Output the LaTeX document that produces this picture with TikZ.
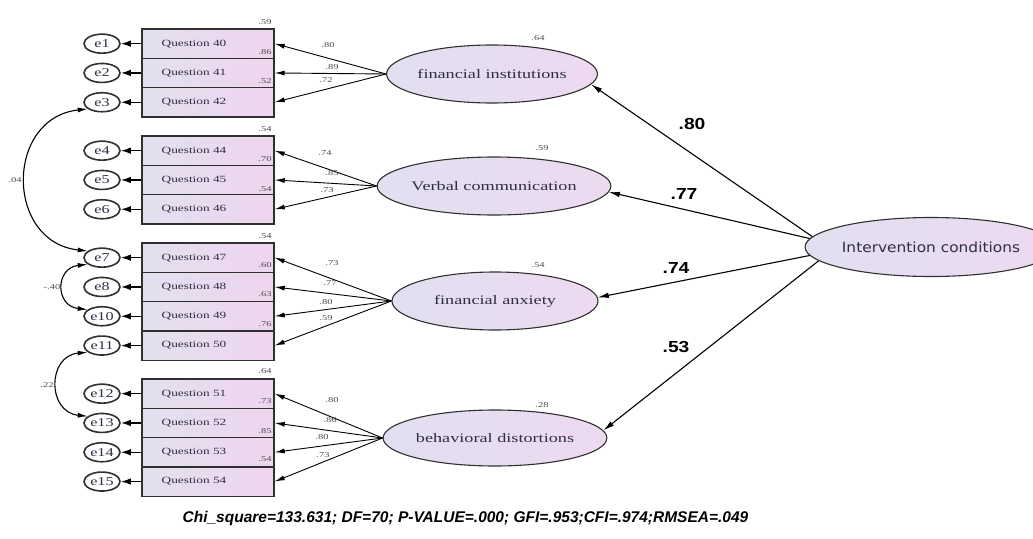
\documentclass[tikz,border=0pt]{standalone}
\usepackage{graphicx}
\usepackage{fontspec}
\setmainfont{Liberation Serif}
\newfontfamily\icfont{DejaVu Sans}
\newfontfamily\labsans{Liberation Sans}
\usetikzlibrary{shapes.geometric,arrows.meta}

\definecolor{boxL}{HTML}{E3E0EE}
\definecolor{boxR}{HTML}{EFD5EF}
\definecolor{ellL}{HTML}{E1DFF0}
\definecolor{ellR}{HTML}{EEDAF0}
\definecolor{ink}{HTML}{2E2E44}
\definecolor{edgecol}{HTML}{303030}
\definecolor{num}{HTML}{4A4A4A}

% horizontally widened text
\newcommand\widetxt[2][1.4]{\scalebox{#1}[1]{#2}}
% indicator caption, set a little left of the box centre
\newcommand\qtxt[1]{\widetxt{Question #1}\kern28pt}

\begin{document}
\begin{tikzpicture}[x=1pt,y=-1pt,
  item/.style={draw=edgecol, line width=1.4pt, rectangle,
    minimum width=132pt, minimum height=29.3pt, inner sep=0pt,
    left color=boxL, right color=boxR, text=ink,
    font=\fontsize{9.5}{10}\selectfont},
  err/.style={ellipse, draw=edgecol, line width=1.6pt, fill=white,
    minimum width=36pt, minimum height=19pt, inner sep=0pt, text=ink,
    font=\fontsize{12}{12}\selectfont},
  latent/.style={ellipse, draw=edgecol, line width=1.1pt, inner sep=0pt,
    left color=ellL, right color=ellR, text=ink,
    font=\fontsize{13}{14}\selectfont},
  ea/.style={-{Latex[length=10pt,width=6.5pt]}, line width=1.4pt, draw=black},
  ld/.style={-{Latex[length=10pt,width=5pt]}, line width=0.9pt, draw=black},
  st/.style={-{Latex[length=11pt,width=5.5pt]}, line width=1.1pt, draw=black},
  cov/.style={{Latex[length=10pt,width=5pt]}-{Latex[length=10pt,width=5pt]},
    line width=1.1pt, draw=black},
  sm/.style={font=\fontsize{7.5}{8}\selectfont, text=num, inner sep=0pt},
  big/.style={font=\labsans\bfseries\fontsize{16}{17}\selectfont, inner sep=0pt}]

\fill[white] (0,0) rectangle (1033,538);
\useasboundingbox (0,0) rectangle (1033,538);

% observed indicators and their error terms
\foreach \e/\n/\y in {1/40/43.65, 2/41/72.95, 3/42/102.25,
                      4/44/150.65, 5/45/179.95, 6/46/209.25,
                      7/47/257.65, 8/48/286.95, 10/49/316.25, 11/50/345.55,
                      12/51/393.65, 13/52/422.95, 14/53/452.25, 15/54/481.55}{
  \node[item] (q\n) at (208,\y) {\qtxt{\n}};
  \node[err] (e\e) at (102,\y) {\widetxt[1.35]{e\e}};
  \draw[ea] (q\n.west) -- (e\e.east);
}

% first-order factors
\node[latent, minimum width=208pt, minimum height=58pt] (FI) at (492,74) {\widetxt{financial institutions}};
\node[latent, minimum width=210pt, minimum height=58pt] (VC) at (494,186) {\widetxt{Verbal communication}};
\node[latent, minimum width=206pt, minimum height=58pt] (FA) at (495,301) {\widetxt{financial anxiety}};
\node[latent, minimum width=204pt, minimum height=56pt] (BD) at (495,438) {\widetxt{behavioral distortions}};

% second-order factor
\node[latent, minimum width=202pt, minimum height=59pt,
  font=\icfont\fontsize{14}{15}\selectfont] (IC) at (931,247) {\widetxt[1.1]{Intervention conditions}};

% factor loadings
\draw[ld] (FI.west) -- (q40.east);
\draw[ld] (FI.west) -- (q41.east);
\draw[ld] (FI.west) -- (q42.east);
\draw[ld] (VC.west) -- (q44.east);
\draw[ld] (VC.west) -- (q45.east);
\draw[ld] (VC.west) -- (q46.east);
\draw[ld] (FA.west) -- (q47.east);
\draw[ld] (FA.west) -- (q48.east);
\draw[ld] (FA.west) -- (q49.east);
\draw[ld] (FA.west) -- (q50.east);
\draw[ld] (BD.west) -- (q51.east);
\draw[ld] (BD.west) -- (q52.east);
\draw[ld] (BD.west) -- (q53.east);
\draw[ld] (BD.west) -- (q54.east);

\node[sm] (l40) at (328,45) {\widetxt{.80}};
\node[sm] (l41) at (332,67) {\widetxt{.89}};
\node[sm] (l42) at (326,80) {\widetxt{.72}};
\node[sm] (l44) at (325,153) {\widetxt{.74}};
\node[sm] (l45) at (332,173) {\widetxt{.85}};
\node[sm] (l46) at (327,190) {\widetxt{.73}};
\node[sm] (l47) at (332,263) {\widetxt{.73}};
\node[sm] (l48) at (330,283) {\widetxt{.77}};
\node[sm] (l49) at (326,302) {\widetxt{.80}};
\node[sm] (l50) at (326,318) {\widetxt{.59}};
\node[sm] (l51) at (332,400) {\widetxt{.80}};
\node[sm] (l52) at (330,420) {\widetxt{.86}};
\node[sm] (l53) at (322,437) {\widetxt{.80}};
\node[sm] (l54) at (323,455) {\widetxt{.73}};

% squared multiple correlations of the indicators
\node[sm] (r40) at (265,22) {\widetxt{.59}};
\node[sm] (r41) at (265,52) {\widetxt{.86}};
\node[sm] (r42) at (265,81) {\widetxt{.52}};
\node[sm] (r44) at (265,129) {\widetxt{.54}};
\node[sm] (r45) at (265,159) {\widetxt{.70}};
\node[sm] (r46) at (265,189) {\widetxt{.54}};
\node[sm] (r47) at (265,236) {\widetxt{.54}};
\node[sm] (r48) at (265,265) {\widetxt{.60}};
\node[sm] (r49) at (265,294) {\widetxt{.63}};
\node[sm] (r50) at (265,324) {\widetxt{.76}};
\node[sm] (r51) at (265,371) {\widetxt{.64}};
\node[sm] (r52) at (265,401) {\widetxt{.73}};
\node[sm] (r53) at (265,431) {\widetxt{.85}};
\node[sm] (r54) at (265,459) {\widetxt{.54}};

% squared multiple correlations of the factors
\node[sm] (rFI) at (538,38) {\widetxt{.64}};
\node[sm] (rVC) at (542,148) {\widetxt{.59}};
\node[sm] (rFA) at (538,265) {\widetxt{.54}};
\node[sm] (rBD) at (542,405) {\widetxt{.28}};

% structural paths
\draw[st] (IC.175) -- (FI.-6);
\draw[st] (IC.176) -- (VC.-3);
\draw[st] (IC.184) -- (FA.2);
\draw[st] (IC.187) -- (BD.4);
\node[big] (sFI) at (692,124) {\widetxt[1.2]{.80}};
\node[big] (sVC) at (684,194) {\widetxt[1.2]{.77}};
\node[big] (sFA) at (676,268) {\widetxt[1.2]{.74}};
\node[big] (sBD) at (676,347) {\widetxt[1.2]{.53}};

% error covariances
\draw[cov] (e3.205) .. controls (5,118) and (5,242) .. (e7.155);
\draw[cov] (e7.205) .. controls (55,268) and (55,306) .. (e10.155);
\draw[cov] (e11.205) .. controls (47,356) and (47,412) .. (e13.155);
\node[sm] (c37) at (15,180) {\widetxt{.04}};
\node[sm] (c710) at (52,287) {\widetxt{-.40}};
\node[sm] (c1113) at (47,385) {\widetxt{.22}};

% fit indices
\node[font=\labsans\bfseries\itshape\fontsize{15.5}{16}\selectfont, inner sep=0pt]
  (fit) at (465.5,518) {Chi\_square=133.631; DF=70; P-VALUE=.000; GFI=.953;CFI=.974;RMSEA=.049};

\end{tikzpicture}
\end{document}
